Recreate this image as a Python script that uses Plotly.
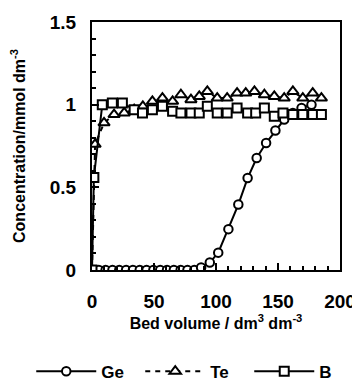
import plotly.graph_objects as go

# Ge
ge_x = [0, 5.5, 11, 16.5, 22, 27.5, 33, 38.5, 44, 49.5, 55, 60.5, 66, 71.5, 77, 82.5, 88, 95,
        101.8, 110, 118, 125.5, 132.8, 140.4, 147.9, 155, 162, 169, 177]
ge_y = [0, 0, 0, 0, 0, 0, 0, 0, 0, 0, 0, 0, 0, 0, 0, 0, 0.015, 0.045,
        0.105, 0.247, 0.396, 0.556, 0.677, 0.768, 0.844, 0.91, 0.95, 0.98, 1.0]

# Te
te_x = [0, 2.5, 9.7, 17.8, 26, 34, 41, 48.7, 56.8, 65, 71.7, 79.8, 86.5, 93, 101, 109, 117,
        124, 131, 139, 147, 155, 162, 170, 178, 185]
te_y = [0, 0.76, 0.89, 0.94, 0.95, 0.97, 0.99, 1.02, 1.04, 1.02, 1.06, 1.03, 1.05, 1.08, 1.04,
        1.04, 1.07, 1.07, 1.08, 1.06, 1.05, 1.04, 1.08, 1.04, 1.07, 1.04]

# B
b_x = [0, 1.5, 8.3, 16.4, 24.5, 34, 40.7, 48.7, 56.8, 65, 71.7, 79.8, 86.5, 93, 101, 109, 117,
       125.5, 132, 139, 147, 154, 162, 170, 178, 185]
b_y = [0, 0.56, 1.0, 1.01, 1.01, 0.97, 0.95, 0.97, 0.99, 0.96, 0.95, 0.95, 0.95, 0.99, 0.95,
       0.95, 0.98, 0.95, 0.95, 0.98, 0.93, 0.95, 0.94, 0.94, 0.94, 0.94]

FONT = "Liberation Sans"

fig = go.Figure()
fig.add_trace(go.Scatter(
    x=ge_x, y=ge_y, name="Ge", mode="lines+markers",
    line=dict(color="black", width=2),
    marker=dict(symbol="circle", size=8.5, color="white", line=dict(color="black", width=2)),
))
fig.add_trace(go.Scatter(
    x=te_x, y=te_y, name="Te", mode="lines+markers",
    line=dict(color="black", width=2, dash="5px,5px"),
    marker=dict(symbol="triangle-up", size=10, color="white", line=dict(color="black", width=2)),
))
fig.add_trace(go.Scatter(
    x=b_x, y=b_y, name="B", mode="lines+markers",
    line=dict(color="black", width=2),
    marker=dict(symbol="square", size=9, color="white", line=dict(color="black", width=2)),
))

fig.update_layout(
    width=360, height=382,
    margin=dict(l=84, r=28, t=14, b=120, autoexpand=False),
    paper_bgcolor="white", plot_bgcolor="white",
    font=dict(family=FONT, size=17, color="black"),
    showlegend=True,
    legend=dict(orientation="h", x=-0.245, xanchor="left", y=-0.41, yanchor="middle",
                font=dict(family=FONT, size=17, color="black", weight="bold"),
                itemwidth=60, entrywidth=34, traceorder="normal",
                bgcolor="rgba(0,0,0,0)"),
)
fig.update_xaxes(
    range=[0, 200], dtick=50, tick0=0,
    showgrid=False, zeroline=False,
    showline=True, linecolor="black", linewidth=2, mirror=True,
    ticks="inside", ticklen=7, tickwidth=1.5, tickcolor="black",
    minor=dict(dtick=10, ticks="inside", ticklen=4, tickwidth=1.5, tickcolor="black"),
    tickfont=dict(family=FONT, size=19, color="black", weight="bold"),
    ticklabelstandoff=13,
    title=dict(text="Bed volume / dm<sup>3</sup> dm<sup>-3</sup>", standoff=5,
               font=dict(family=FONT, size=16, color="black", weight="bold")),
)
fig.update_yaxes(
    range=[0, 1.5], dtick=0.5, tick0=0,
    showgrid=False, zeroline=False,
    showline=True, linecolor="black", linewidth=2, mirror=True,
    ticks="inside", ticklen=7, tickwidth=1.5, tickcolor="black",
    minor=dict(dtick=0.1, ticks="inside", ticklen=4, tickwidth=1.5, tickcolor="black"),
    tickfont=dict(family=FONT, size=19, color="black", weight="bold"),
    ticklabelstandoff=10,
    title=dict(text="Concentration/mmol dm<sup>-3</sup>", standoff=22,
               font=dict(family=FONT, size=16, color="black", weight="bold")),
)

fig.write_html("out.html")
